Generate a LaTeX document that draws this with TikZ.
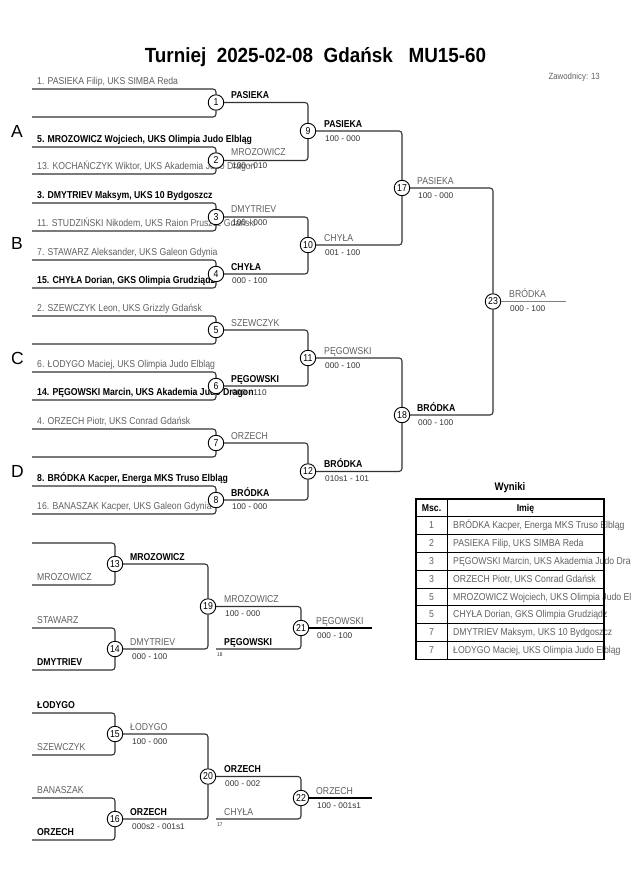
\documentclass[tikz,border=0pt]{standalone}
\usepackage{fontspec}
\setmainfont{Liberation Sans}
\newfontfamily\nf[FakeStretch=0.87]{Liberation Sans}
\newfontfamily\tf[FakeStretch=0.92]{Liberation Sans}
\definecolor{lc}{HTML}{333333}
\definecolor{gt}{HTML}{606060}
\definecolor{st}{HTML}{333333}
\begin{document}
\begin{tikzpicture}[x=1pt,y=-1pt,
 br/.style={line width=1.1pt,draw=lc,rounded corners=3pt},
 mc/.style={circle,draw=black,line width=0.9pt,fill=white,minimum size=15.5pt,inner sep=0pt,font=\nf\fontsize{10}{10}\selectfont},
 nmg/.style={anchor=base west,inner sep=0pt,text=gt,font=\nf\fontsize{10}{10}\selectfont},
 nmb/.style={anchor=base west,inner sep=0pt,text=black,font=\nf\bfseries\fontsize{10}{10}\selectfont},
 sc/.style={anchor=base west,inner sep=0pt,text=st,font=\fontsize{8.3}{9}\selectfont},
 tiny/.style={anchor=base west,inner sep=0pt,text=st,font=\nf\fontsize{5.5}{6}\selectfont},
 grp/.style={anchor=base west,inner sep=0pt,font=\fontsize{17.5}{18}\selectfont},
 tb/.style={line width=0.7pt,draw=black},
 tbo/.style={line width=1.4pt,draw=black},
 tcell/.style={anchor=base,inner sep=0pt,text=gt,font=\nf\fontsize{10}{10}\selectfont},
 tname/.style={anchor=base west,inner sep=0pt,text=gt,font=\nf\fontsize{10}{10}\selectfont},
 thead/.style={anchor=base,inner sep=0pt,font=\nf\bfseries\fontsize{10}{10}\selectfont},
]
\useasboundingbox (0,0) rectangle (630,891);

% ---- header ----
\node[anchor=base,inner sep=0pt,font=\tf\bfseries\fontsize{20.5}{22}\selectfont] (title) at (315.5,63) {Turniej\ \ 2025-02-08\ \ Gdańsk\ \ \ MU15-60};
\node[anchor=base east,inner sep=0pt,text=gt,font=\nf\fontsize{9}{9}\selectfont] (zaw) at (600,79) {Zawodnicy: 13};

% ---- group letters ----
\node[grp] (gA) at (11,137) {A};
\node[grp] (gB) at (11,249) {B};
\node[grp] (gC) at (11,364) {C};
\node[grp] (gD) at (11,477) {D};

% ---- line start coordinates, round 1 ----
\coordinate (t1) at (32,89);  \coordinate (b1) at (32,117);
\coordinate (t2) at (32,147); \coordinate (b2) at (32,174);
\coordinate (t3) at (32,203); \coordinate (b3) at (32,231);
\coordinate (t4) at (32,260); \coordinate (b4) at (32,288);
\coordinate (t5) at (32,316); \coordinate (b5) at (32,344);
\coordinate (t6) at (32,372); \coordinate (b6) at (32,400);
\coordinate (t7) at (32,429); \coordinate (b7) at (32,457);
\coordinate (t8) at (32,486); \coordinate (b8) at (32,514);

% ---- competitor texts ----
\node[nmg] (p1)  at (37,84.5)  {1. PASIEKA Filip, UKS SIMBA Reda};
\node[nmb] (p5)  at (37,142.5) {5. MROZOWICZ Wojciech, UKS Olimpia Judo Elbląg};
\node[nmg] (p13) at (37,169.5) {13. KOCHAŃCZYK Wiktor, UKS Akademia Judo Dragon};
\node[nmb] (p3)  at (37,198.5) {3. DMYTRIEV Maksym, UKS 10 Bydgoszcz};
\node[nmg] (p11) at (37,226.5) {11. STUDZIŃSKI Nikodem, UKS Raion Pruszcz Gdański};
\node[nmg] (p7)  at (37,255.5) {7. STAWARZ Aleksander, UKS Galeon Gdynia};
\node[nmb] (p15) at (37,283.5) {15. CHYŁA Dorian, GKS Olimpia Grudziądz};
\node[nmg] (p2)  at (37,311.5) {2. SZEWCZYK Leon, UKS Grizzly Gdańsk};
\node[nmg] (p6)  at (37,367.5) {6. ŁODYGO Maciej, UKS Olimpia Judo Elbląg};
\node[nmb] (p14) at (37,395.5) {14. PĘGOWSKI Marcin, UKS Akademia Judo Dragon};
\node[nmg] (p4)  at (37,424.5) {4. ORZECH Piotr, UKS Conrad Gdańsk};
\node[nmb] (p8)  at (37,481.5) {8. BRÓDKA Kacper, Energa MKS Truso Elbląg};
\node[nmg] (p16) at (37,509.5) {16. BANASZAK Kacper, UKS Galeon Gdynia};

% ---- winner labels and scores, round 1 ----
\node[nmb] (w1) at (231,98) {PASIEKA};
\node[nmg] (w2) at (231,155.5) {MROZOWICZ};
\node[sc]  (s2) at (232,168.5) {100 - 010};
\node[nmg] (w3) at (231,212) {DMYTRIEV};
\node[sc]  (s3) at (232,225) {100 - 000};
\node[nmb] (w4) at (231,270) {CHYŁA};
\node[sc]  (s4) at (232,283) {000 - 100};
\node[nmg] (w5) at (231,326) {SZEWCZYK};
\node[nmb] (w6) at (231,382.5) {PĘGOWSKI};
\node[sc]  (s6) at (232,395.5) {000 - 110};
\node[nmg] (w7) at (231,439) {ORZECH};
\node[nmb] (w8) at (231,496) {BRÓDKA};
\node[sc]  (s8) at (232,509) {100 - 000};

% ---- round 2 and later labels ----
\node[nmb] (w9)  at (324,127) {PASIEKA};
\node[sc]  (s9)  at (325,141) {100 - 000};
\node[nmg] (w10) at (324,241) {CHYŁA};
\node[sc]  (s10) at (325,255) {001 - 100};
\node[nmg] (w11) at (324,354.5) {PĘGOWSKI};
\node[sc]  (s11) at (325,368.5) {000 - 100};
\node[nmb] (w12) at (324,467.5) {BRÓDKA};
\node[sc]  (s12) at (325,481.5) {010s1 - 101};
\node[nmg] (w17) at (417,184) {PASIEKA};
\node[sc]  (s17) at (418,198) {100 - 000};
\node[nmb] (w18) at (417,411) {BRÓDKA};
\node[sc]  (s18) at (418,425) {000 - 100};
\node[nmg] (w23) at (509,297.5) {BRÓDKA};
\node[sc]  (s23) at (510,311.5) {000 - 100};

% ---- circles main bracket ----
\node[mc] (m1) at (216,102.5) {1};
\node[mc] (m2) at (216,160.5) {2};
\node[mc] (m3) at (216,217) {3};
\node[mc] (m4) at (216,274) {4};
\node[mc] (m5) at (216,330) {5};
\node[mc] (m6) at (216,386) {6};
\node[mc] (m7) at (216,443) {7};
\node[mc] (m8) at (216,500) {8};
\node[mc] (m9) at (308,131) {9};
\node[mc] (m10) at (308,245) {10};
\node[mc] (m11) at (308,358) {11};
\node[mc] (m12) at (308,471.5) {12};
\node[mc] (m17) at (402,188) {17};
\node[mc] (m18) at (402,415) {18};
\node[mc] (m23) at (493,301.5) {23};
\coordinate (f23) at (566,301.5);

% ---- connectors main bracket ----
\foreach \i in {1,...,8}{
  \draw[br] (t\i) -| (m\i);
  \draw[br] (b\i) -| (m\i);
}
\draw[br] (m1) -| (m9);  \draw[br] (m2) -| (m9);
\draw[br] (m3) -| (m10); \draw[br] (m4) -| (m10);
\draw[br] (m5) -| (m11); \draw[br] (m6) -| (m11);
\draw[br] (m7) -| (m12); \draw[br] (m8) -| (m12);
\draw[br] (m9) -| (m17); \draw[br] (m10) -| (m17);
\draw[br] (m11) -| (m18); \draw[br] (m12) -| (m18);
\draw[br] (m17) -| (m23); \draw[br] (m18) -| (m23);
\draw[line width=1.8pt,draw=gray] (m23) -- (f23);

% ---- repechage 1 ----
\coordinate (t13) at (32,543); \coordinate (b13) at (32,585);
\coordinate (t14) at (32,628); \coordinate (b14) at (32,670);
\coordinate (r21) at (216,649);
\coordinate (f21) at (372,628);
\node[nmg] (q13b) at (37,580.5) {MROZOWICZ};
\node[nmg] (q14t) at (37,623.5) {STAWARZ};
\node[nmb] (q14b) at (37,665.5) {DMYTRIEV};
\node[nmb] (w13) at (130,560) {MROZOWICZ};
\node[nmg] (w14) at (130,645) {DMYTRIEV};
\node[sc]  (s14) at (132,659) {000 - 100};
\node[nmg] (w19) at (224,602.5) {MROZOWICZ};
\node[sc]  (s19) at (225,616.5) {100 - 000};
\node[nmb] (q21) at (224,645) {PĘGOWSKI};
\node[tiny] (n18) at (217,656.5) {18};
\node[nmg] (w21) at (316,624) {PĘGOWSKI};
\node[sc]  (s21) at (317,638) {000 - 100};
\node[mc] (m13) at (115,564) {13};
\node[mc] (m14) at (115,649) {14};
\node[mc] (m19) at (208,606.5) {19};
\node[mc] (m21) at (301,628) {21};
\draw[br] (t13) -| (m13); \draw[br] (b13) -| (m13);
\draw[br] (t14) -| (m14); \draw[br] (b14) -| (m14);
\draw[br] (m13) -| (m19); \draw[br] (m14) -| (m19);
\draw[br] (m19) -| (m21); \draw[br] (r21) -| (m21);
\draw[line width=1.1pt,draw=black] (m21) -- (f21);

% ---- repechage 2 ----
\coordinate (t15) at (32,713); \coordinate (b15) at (32,755);
\coordinate (t16) at (32,798); \coordinate (b16) at (32,840);
\coordinate (r22) at (216,819);
\coordinate (f22) at (372,798);
\node[nmb] (q15t) at (37,708.5) {ŁODYGO};
\node[nmg] (q15b) at (37,750.5) {SZEWCZYK};
\node[nmg] (q16t) at (37,793.5) {BANASZAK};
\node[nmb] (q16b) at (37,835.5) {ORZECH};
\node[nmg] (w15) at (130,730) {ŁODYGO};
\node[sc]  (s15) at (132,744) {100 - 000};
\node[nmb] (w16) at (130,815) {ORZECH};
\node[sc]  (s16) at (132,829) {000s2 - 001s1};
\node[nmb] (w20) at (224,772.5) {ORZECH};
\node[sc]  (s20) at (225,786.5) {000 - 002};
\node[nmg] (q22) at (224,815) {CHYŁA};
\node[tiny] (n17) at (217,826.5) {17};
\node[nmg] (w22) at (316,794) {ORZECH};
\node[sc]  (s22) at (317,808) {100 - 001s1};
\node[mc] (m15) at (115,734) {15};
\node[mc] (m16) at (115,819) {16};
\node[mc] (m20) at (208,776.5) {20};
\node[mc] (m22) at (301,798) {22};
\draw[br] (t15) -| (m15); \draw[br] (b15) -| (m15);
\draw[br] (t16) -| (m16); \draw[br] (b16) -| (m16);
\draw[br] (m15) -| (m20); \draw[br] (m16) -| (m20);
\draw[br] (m20) -| (m22); \draw[br] (r22) -| (m22);
\draw[line width=1.1pt,draw=black] (m22) -- (f22);

% ---- results table ----
\node[anchor=base,inner sep=0pt,font=\nf\bfseries\fontsize{11}{11}\selectfont] (wyn) at (510,490) {Wyniki};
\node[thead] (hm) at (431.5,511) {Msc.};
\node[thead] (hi) at (525.5,511) {Imię};
\foreach \k/\pl/\nm in {1/1/{BRÓDKA Kacper, Energa MKS Truso Elbląg},
                        2/2/{PASIEKA Filip, UKS SIMBA Reda},
                        3/3/{PĘGOWSKI Marcin, UKS Akademia Judo Dragon},
                        4/3/{ORZECH Piotr, UKS Conrad Gdańsk},
                        5/5/{MROZOWICZ Wojciech, UKS Olimpia Judo Elbląg},
                        6/5/{CHYŁA Dorian, GKS Olimpia Grudziądz},
                        7/7/{DMYTRIEV Maksym, UKS 10 Bydgoszcz},
                        8/7/{ŁODYGO Maciej, UKS Olimpia Judo Elbląg}}{
  \node[tcell] (rp\k) at (431.5,511+17.8*\k) {\pl};
  \node[tname] (rn\k) at (453,511+17.8*\k) {\nm};
}
\foreach \k in {1,...,8}{
  \draw[tb] (416,499+17.8*\k) -- (604,499+17.8*\k);
}
\draw[tb] (447,499) -- (447,659.2);
\draw[tbo] (416,499) rectangle (604,659.2);
\end{tikzpicture}
\end{document}
